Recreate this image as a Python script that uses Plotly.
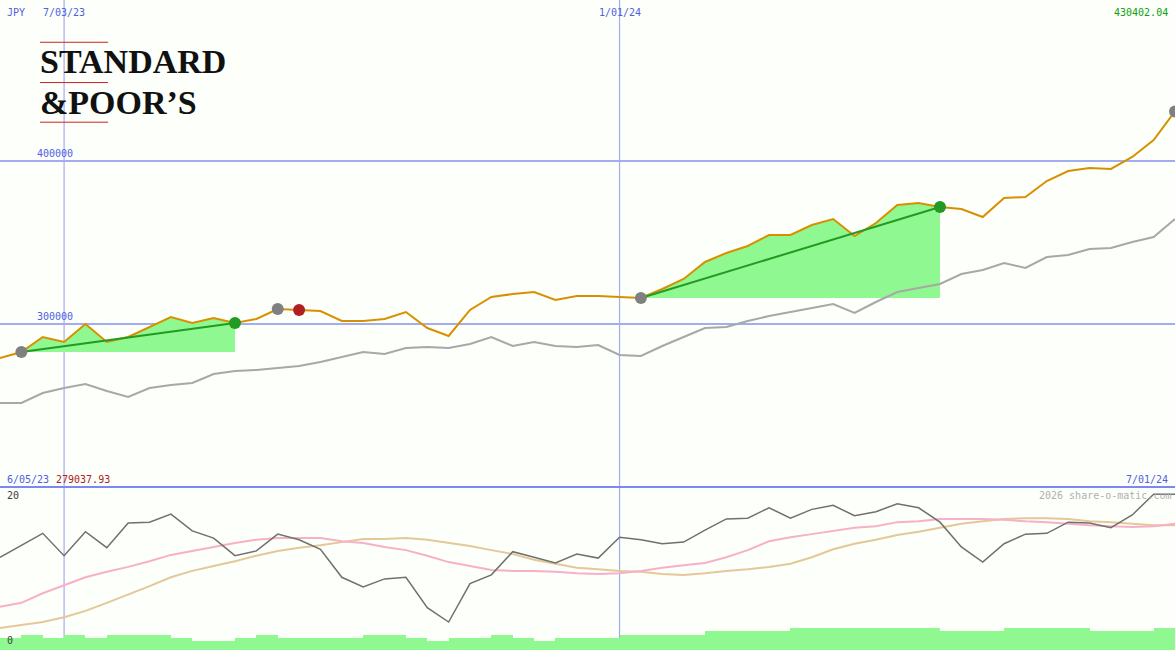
import plotly.graph_objects as go

# weekly observations, 6/05/23 .. 7/01/24 (index 0..55)
price = [279037.93, 282822, 292024, 288957, 300000, 288957, 292024, 298160, 304295, 300614,
         303681, 300614, 303068, 309203, 308589, 307976, 301841, 301841, 303068, 307362,
         297546, 292638, 308589, 316565, 318405, 319632, 314724, 317178, 317178, 316565,
         315951, 321473, 327608, 338037, 343559, 347853, 354602, 354602, 360737, 364418,
         353988, 361964, 373007, 374234, 371780, 370553, 365645, 377301, 377915, 387731,
         393866, 395706, 395093, 402454, 412884, 430402.04]
bench = [251534, 251534, 257669, 260736, 263190, 258896, 255215, 260736, 262577, 263804,
         269325, 271166, 271779, 273006, 274233, 276687, 279755, 282822, 281595, 285276,
         285890, 285276, 287730, 292024, 286503, 288957, 286503, 285890, 287117, 280982,
         280368, 286503, 292024, 297546, 298160, 301841, 304908, 307362, 309816, 312270,
         306749, 313497, 319632, 322086, 324540, 330675, 333129, 337424, 334356, 341105,
         342332, 346013, 346626, 350307, 353375, 364418]
osc = [11.6, 13.1, 14.6, 11.8, 14.8, 12.8, 15.9, 16.0, 17.0, 14.9, 14.0, 11.8, 12.4, 14.5,
       13.8, 12.6, 9.1, 7.9, 8.9, 9.1, 5.3, 3.5, 8.3, 9.4, 12.3, 11.6, 10.9, 12.0, 11.5, 14.1,
       13.8, 13.3, 13.5, 15.0, 16.4, 16.5, 17.8, 16.5, 17.6, 18.1, 16.8, 17.3, 18.3, 17.8, 16.0,
       12.9, 11.0, 13.3, 14.5, 14.6, 16.0, 15.9, 15.3, 16.9, 19.5, 19.5]
avg_fast = [5.4, 5.9, 7.1, 8.1, 9.1, 9.8, 10.4, 11.1, 11.9, 12.4, 12.9, 13.4, 13.8, 14.0,
            14.0, 14.0, 13.6, 13.4, 12.9, 12.5, 11.8, 11.0, 10.5, 10.0, 9.9, 9.9, 9.8, 9.6,
            9.5, 9.6, 9.9, 10.3, 10.6, 10.9, 11.6, 12.5, 13.6, 14.1, 14.5, 14.9, 15.3, 15.5,
            16.0, 16.1, 16.4, 16.4, 16.4, 16.3, 16.1, 16.0, 15.8, 15.6, 15.5, 15.4, 15.5, 15.8]
avg_slow = [2.75, 3.1, 3.5, 4.1, 4.9, 5.9, 6.9, 8.0, 9.1, 9.9, 10.5, 11.1, 11.8, 12.4, 12.8,
            13.1, 13.5, 13.9, 13.9, 14.0, 13.8, 13.4, 13.0, 12.5, 12.0, 11.3, 10.8, 10.3, 10.1,
            9.9, 9.8, 9.5, 9.4, 9.6, 9.9, 10.1, 10.4, 10.8, 11.6, 12.6, 13.3, 13.8, 14.4, 14.8,
            15.3, 15.8, 16.1, 16.4, 16.5, 16.5, 16.4, 16.1, 16.0, 15.8, 15.6, 15.6]
volume = [1.5, 1.9, 1.5, 1.9, 1.5, 1.9, 1.9, 1.9, 1.5, 1.1, 1.1, 1.5, 1.9, 1.5, 1.5, 1.5,
          1.5, 1.9, 1.9, 1.5, 1.1, 1.5, 1.5, 1.9, 1.5, 1.1, 1.5, 1.5, 1.5, 1.9, 1.9, 1.9,
          1.9, 2.4, 2.4, 2.4, 2.4, 2.75, 2.75, 2.75, 2.75, 2.75, 2.75, 2.75, 2.4, 2.4, 2.4,
          2.75, 2.75, 2.75, 2.75, 2.4, 2.4, 2.4, 2.75, 2.75]
idx = list(range(len(price)))

date_ticks = [3, 29]
date_labels = ["7/03/23", "1/01/24"]
price_grid = [300000, 400000]
trends = [(1, 11), (30, 44)]       # start/end index of the green trend periods
gray_pts = [1, 13, 30, 55]
green_pts = [11, 44]
red_pts = [14]

BLUE = "#a4acf0"
TXT = "#5060e0"
FONT = "DejaVu Sans Mono"

fig = go.Figure()

for a, b in trends:
    xs = idx[a:b + 1] + [b, a]
    ys = price[a:b + 1] + [price[a], price[a]]
    fig.add_trace(go.Scatter(x=xs, y=ys, fill="toself", fillcolor="#90f890",
                             line=dict(width=0), mode="lines", hoverinfo="skip"))

fig.add_trace(go.Scatter(x=idx, y=bench, mode="lines", line=dict(color="#a8a8a8", width=2)))
fig.add_trace(go.Scatter(x=idx, y=price, mode="lines", line=dict(color="#d89000", width=2)))

for a, b in trends:
    fig.add_trace(go.Scatter(x=[a, b], y=[price[a], price[b]], mode="lines",
                             line=dict(color="#239a23", width=2)))

for pts, col in [(gray_pts, "#808080"), (green_pts, "#239a23"), (red_pts, "#b02020")]:
    fig.add_trace(go.Scatter(x=pts, y=[price[i] for i in pts], mode="markers",
                             marker=dict(color=col, size=12, line=dict(width=0)), cliponaxis=False))

# lower panel: volume steps span each week to the right of its point
fig.add_trace(go.Bar(x=[i + 0.5 for i in idx], y=volume, width=1,
                     marker=dict(color="#90f890", line=dict(width=0)), xaxis="x2", yaxis="y2"))
fig.add_trace(go.Scatter(x=idx, y=avg_slow, mode="lines", line=dict(color="#e4c898", width=2),
                         xaxis="x2", yaxis="y2"))
fig.add_trace(go.Scatter(x=idx, y=avg_fast, mode="lines", line=dict(color="#f8b0c8", width=2),
                         xaxis="x2", yaxis="y2"))
fig.add_trace(go.Scatter(x=idx, y=osc, mode="lines", line=dict(color="#707070", width=1.5),
                         xaxis="x2", yaxis="y2"))

shapes = []
for t in date_ticks:
    shapes.append(dict(type="line", xref="x", yref="paper", x0=t, x1=t, y0=0, y1=1,
                       line=dict(color=BLUE, width=1.2), layer="below"))
for p in price_grid:
    shapes.append(dict(type="line", xref="paper", yref="y", x0=0, x1=1, y0=p, y1=p,
                       line=dict(color=BLUE, width=2), layer="below"))
shapes.append(dict(type="line", xref="paper", yref="paper", x0=0, x1=1, y0=0.2508, y1=0.2508,
                   line=dict(color="#7a88f0", width=2)))
for yy in [0.935, 0.873, 0.812]:
    shapes.append(dict(type="line", xref="paper", yref="paper", x0=0.034, x1=0.092, y0=yy, y1=yy,
                       line=dict(color="#d02020", width=1)))


def label(x, y, text, color, xanchor="left", yanchor="middle", xref="paper", yref="paper",
          size=10, family=FONT):
    return dict(xref=xref, yref=yref, x=x, y=y, text=text, showarrow=False, xanchor=xanchor,
                yanchor=yanchor, font=dict(family=family, size=size, color=color))


annotations = [
    label(0.004, 0.981, "JPY", TXT),
    label(0.004, 0.262, "6/05/23", TXT),
    label(0.046, 0.262, f"{price[0]:.2f}", "#b02020"),
    label(0.004, 0.238, "20", "#404040"),
    label(0.004, 0.014, "0", "#404040"),
    label(0.996, 0.981, f"{price[-1]:.2f}", "#10a010", xanchor="right"),
    label(0.996, 0.262, "7/01/24", TXT, xanchor="right"),
    label(0.998, 0.238, "2026 share-o-matic.com", "#b0b0b0", xanchor="right"),
    label(0.032, 0.905, "<b>STANDARD</b>", "#111111", family="Liberation Serif", size=34),
    label(0.032, 0.843, "<b>&amp;POOR’S</b>", "#111111", family="Liberation Serif", size=34),
]
for p in price_grid:
    annotations.append(label(0.03, p, str(p), TXT, yref="y", yanchor="bottom"))
for t, lab in zip(date_ticks, date_labels):
    annotations.append(label(t, 0.981, lab, TXT, xref="x", xanchor="center"))

ax = dict(range=[0, 55], showgrid=False, zeroline=False, showticklabels=False, ticks="")
fig.update_layout(
    width=1175, height=650, margin=dict(l=0, r=0, t=0, b=0),
    paper_bgcolor="#fcfffa", plot_bgcolor="#fcfffa", showlegend=False,
    xaxis=dict(ax, anchor="y"),
    yaxis=dict(range=[200000, 498773], domain=[0.2508, 1], showgrid=False, zeroline=False,
               showticklabels=False),
    xaxis2=dict(ax, anchor="y2"),
    yaxis2=dict(range=[0, 20.4], domain=[0, 0.2508], showgrid=False, zeroline=False,
                showticklabels=False),
    bargap=0, shapes=shapes, annotations=annotations,
)

fig.write_html("out.html", config={"displayModeBar": False},
               post_script="document.body.style.margin='0';")
